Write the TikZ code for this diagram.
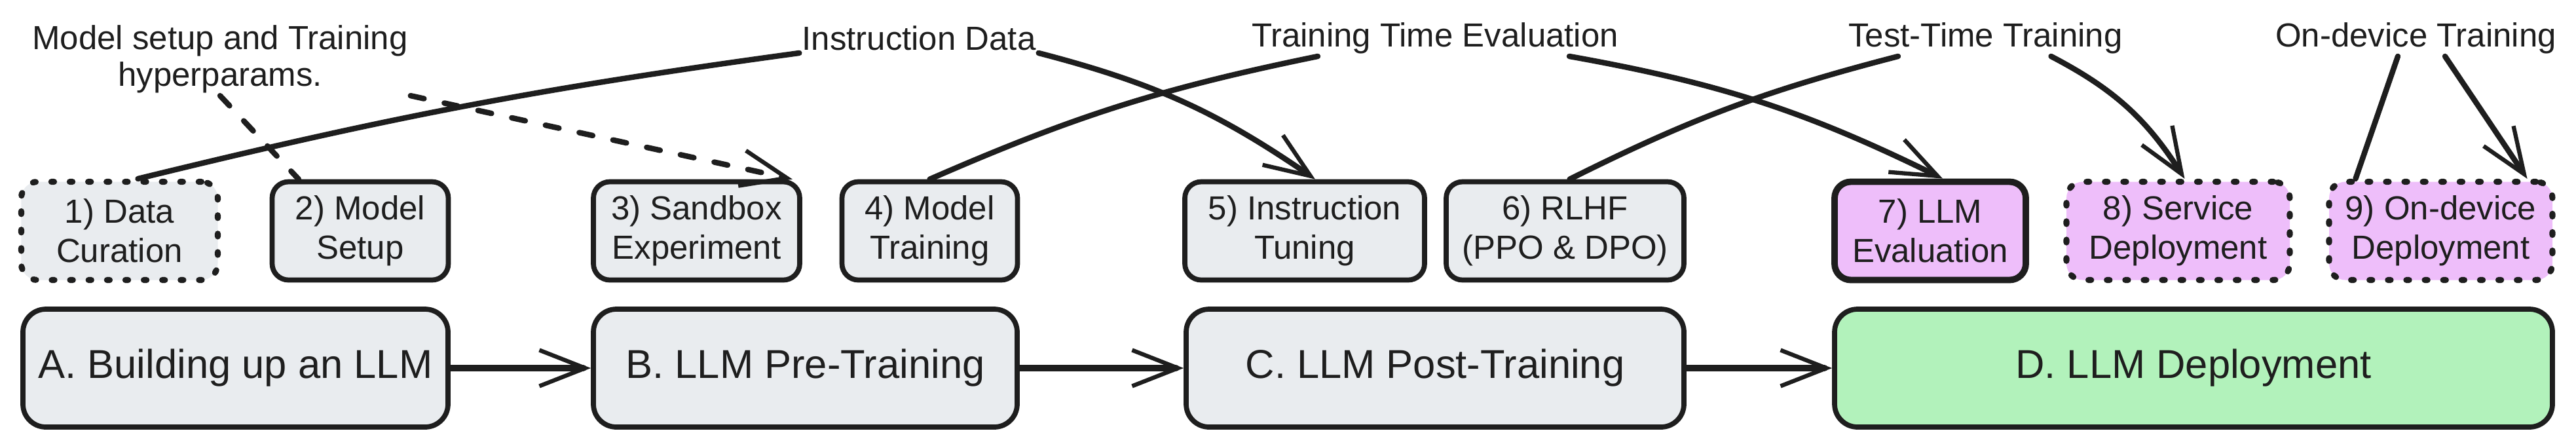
\documentclass[tikz,border=0pt]{standalone}
\usepackage{fontspec}
\setmainfont{Liberation Sans}
\usetikzlibrary{arrows.meta}
\definecolor{ink}{HTML}{1E1E1E}
\definecolor{boxgray}{HTML}{E9ECEF}
\definecolor{boxviolet}{HTML}{EEBEFA}
\definecolor{boxgreen}{HTML}{B2F2BB}

\begin{document}
\begin{tikzpicture}
      \tikzset{every node/.style={text=ink},
        stage/.style={draw=ink, line width=2.2pt, rounded corners=0.25cm, fill=boxgray, align=center,
          font=\fontsize{14.5}{17}\selectfont, minimum height=1.5cm, inner sep=2pt},
        dotbox/.style={stage, line width=2.6pt, line cap=round, dash pattern=on 1.2pt off 6.8pt},
        phase/.style={stage, rounded corners=0.35cm, font=\fontsize{17.5}{21}\selectfont, minimum height=1.8cm},
        note/.style={font=\fontsize{14.5}{16}\selectfont, align=center, inner sep=1pt},
        link/.style={draw=ink, line width=2.4pt, line cap=round},
        flow/.style={link, -{Straight Barb[length=0.7cm, width=0.55cm, line width=1.8pt]}},
        cut/.style={dash pattern=on 6pt off 9pt}}
      \useasboundingbox (0,0) rectangle (39.33,-6.83);
      \node[dotbox, minimum width=3.0cm] (b1) at (1.825,-3.525) {1) Data\\Curation};
      \node[stage, minimum width=2.69cm] (b2) at (5.50,-3.525) {2) Model\\Setup};
      \node[stage, minimum width=3.15cm] (b3) at (10.635,-3.525) {3) Sandbox\\Experiment};
      \node[stage, minimum width=2.68cm] (b4) at (14.195,-3.525) {4) Model\\Training};
      \node[stage, minimum width=3.66cm] (b5) at (19.92,-3.525) {5) Instruction\\Tuning};
      \node[stage, minimum width=3.63cm] (b6) at (23.895,-3.525) {6) RLHF\\(PPO \& DPO)};
      \node[stage, fill=boxviolet, line width=2.8pt, minimum width=2.92cm] (b7) at (29.47,-3.525) {7) LLM\\Evaluation};
      \node[dotbox, fill=boxviolet, minimum width=3.41cm] (b8) at (33.255,-3.525) {8) Service\\Deployment};
      \node[dotbox, fill=boxviolet, minimum width=3.41cm] (b9) at (37.265,-3.525) {9) On-device\\Deployment};
      \node[phase, minimum width=6.49cm] (pA) at (3.595,-5.62) {A. Building up an LLM};
      \node[phase, minimum width=6.47cm] (pB) at (12.295,-5.62) {B. LLM Pre-Training};
      \node[phase, minimum width=7.6cm] (pC) at (21.91,-5.62) {C. LLM Post-Training};
      \node[phase, fill=boxgreen, minimum width=10.96cm] (pD) at (33.49,-5.62) {D. LLM Deployment};
      \node[note] (setup) at (3.36,-0.9) {Model setup and Training\\hyperparams.};
      \node[note] (instr) at (14.03,-0.58) {Instruction Data};
      \node[note] (tte) at (21.91,-0.58) {Training Time Evaluation};
      \node[note] (ttt) at (30.315,-0.58) {Test-Time Training};
      \node[note] (odt) at (36.885,-0.58) {On-device Training};
      \draw[link, cut] (setup.south) -- ([xshift=-0.94cm]b2.north);
      \draw[flow, cut] (setup.south east) -- ([xshift=-0.15cm]b3.north east);
      \draw[link] (instr.south west) to[bend right=3] ([xshift=0.28cm]b1.north);
      \draw[flow] (instr.south east) to[bend left=10] ([xshift=0.16cm]b5.north);
      \draw[link] ([xshift=-1.79cm]tte.south) to[bend right=6] (b4.north);
      \draw[flow] ([xshift=2.05cm]tte.south) to[bend left=8] ([xshift=0.19cm]b7.north);
      \draw[link] ([xshift=-1.335cm]ttt.south) to[bend right=6] ([xshift=0.07cm]b6.north);
      \draw[flow] ([xshift=1.0cm]ttt.south) to[bend left=15] ([xshift=0.1cm]b8.north);
      \draw[link] ([xshift=-0.275cm]odt.south) -- ([xshift=0.45cm]b9.north west);
      \draw[flow] ([xshift=0.445cm]odt.south) -- ([xshift=-0.43cm]b9.north east);
      \draw[flow, line width=3pt] (pA) -- (pB);
      \draw[flow, line width=3pt] (pB) -- (pC);
      \draw[flow, line width=3pt] (pC) -- (pD);
    \end{tikzpicture}
\end{document}
